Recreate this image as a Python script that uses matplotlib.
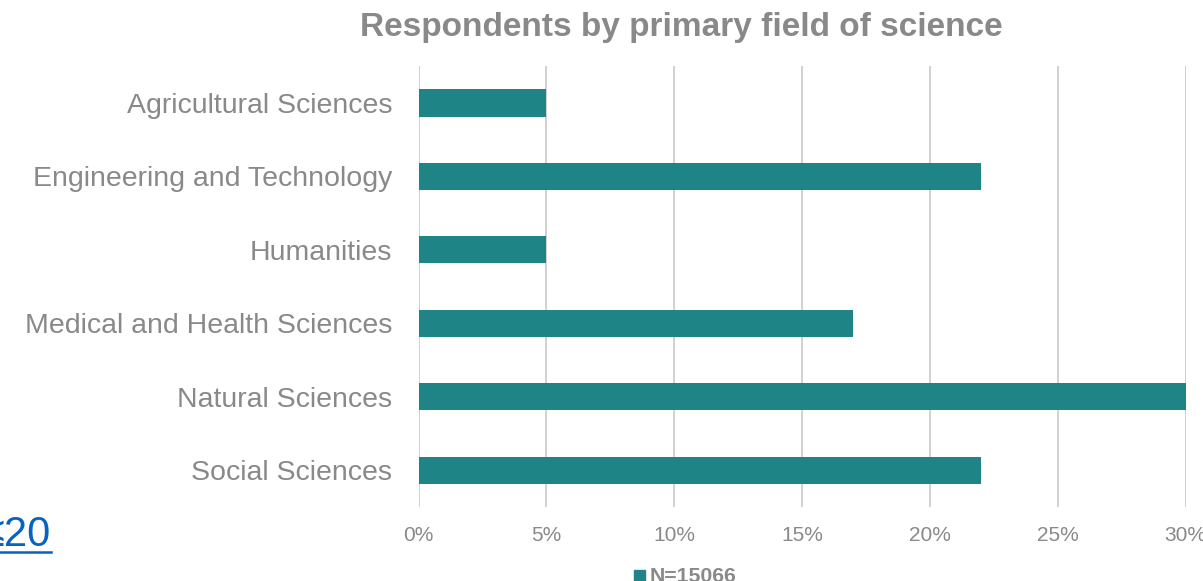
import matplotlib.pyplot as plt
from matplotlib.patches import Rectangle

plt.rcParams['font.family'] = ['Liberation Sans', 'DejaVu Sans']

fields = ['Agricultural Sciences', 'Engineering and Technology', 'Humanities',
          'Medical and Health Sciences', 'Natural Sciences', 'Social Sciences']
shares = [5, 22, 5, 17, 30, 22]
xticks = [0, 5, 10, 15, 20, 25, 30]
series_label = 'N=15066'

gray = '#898989'
teal = '#1e8486'

fig = plt.figure(figsize=(12.03, 5.81), dpi=100)
ax = fig.add_axes([0.348, 0.1273, 0.6376, 0.7587])

pos = list(range(len(fields)))
ax.barh(pos, shares, height=0.37, color=teal, zorder=3)
ax.set_yticks(pos)
ax.set_yticklabels(fields, fontsize=20.5, color=gray)
ax.set_ylim(len(fields) - 0.5, -0.5)
ax.set_xlim(0, 30)
ax.set_xticks(xticks)
ax.set_xticklabels([f'{t}%' for t in xticks], fontsize=15, color=gray)
ax.tick_params(length=0, axis='y', pad=19)
ax.tick_params(length=0, axis='x', pad=13.5)
ax.xaxis.grid(True, color='#d0d0d0', linewidth=1.4, zorder=0)
for s in ax.spines.values():
    s.set_visible(False)

fig.text(0.5665, 0.938, 'Respondents by primary field of science', ha='center', va='baseline',
         fontsize=24, fontweight='bold', color=gray)

# legend (clipped by the bottom edge, as in the source)
fig.patches.append(Rectangle((634 / 1203, -0.005), 11 / 1203, 0.024, transform=fig.transFigure,
                             color=teal))
fig.text(650 / 1203, -0.002, series_label, ha='left', va='baseline', fontsize=15.3,
         fontweight='bold', color=gray)

# cut-off link text at the left edge
fig.text(0.042, 0.06, '\u226420', ha='right', va='baseline', fontsize=30, color='#0563c1')
fig.add_artist(plt.Line2D([0, 0.042], [0.05, 0.05], transform=fig.transFigure,
                          color='#0563c1', linewidth=1.8))

fig.savefig('out.png', dpi=100)
